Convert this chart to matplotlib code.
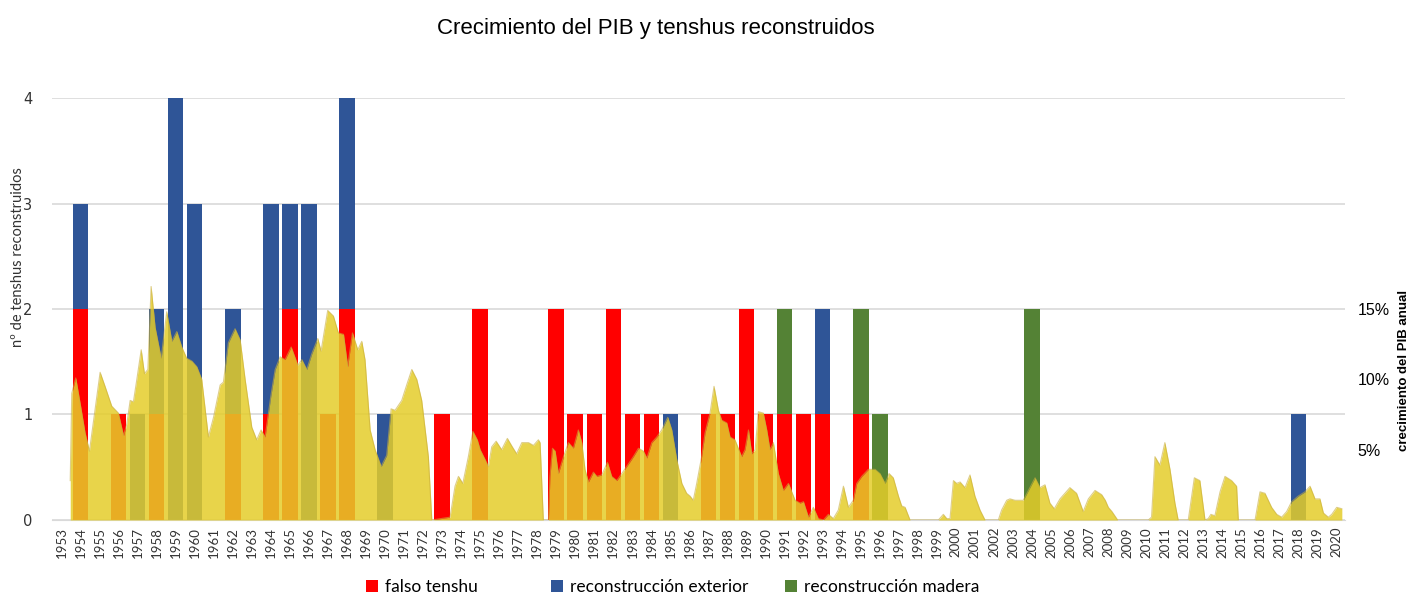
import numpy as np
import matplotlib.pyplot as plt

# tenshus reconstruidos por año (1953-2020)
years = list(range(1953, 2021))

falso_tenshu = [0, 2, 0, 1, 0, 1, 0, 0, 0, 1,      # 1953-1962
                0, 1, 2, 0, 1, 2, 0, 0, 0, 0,      # 1963-1972
                1, 0, 2, 0, 0, 0, 2, 1, 1, 2,      # 1973-1982
                1, 1, 0, 0, 1, 1, 2, 1, 1, 1,      # 1983-1992
                1, 0, 1, 0, 0, 0, 0, 0, 0, 0,      # 1993-2002
                0, 0, 0, 0, 0, 0, 0, 0, 0, 0,      # 2003-2012
                0, 0, 0, 0, 0, 0, 0, 0]            # 2013-2020

rec_exterior = [0, 1, 0, 0, 1, 1, 4, 3, 0, 1,
                0, 2, 1, 3, 0, 2, 0, 1, 0, 0,
                0, 0, 0, 0, 0, 0, 0, 0, 0, 0,
                0, 0, 1, 0, 0, 0, 0, 0, 0, 0,
                1, 0, 0, 0, 0, 0, 0, 0, 0, 0,
                0, 0, 0, 0, 0, 0, 0, 0, 0, 0,
                0, 0, 0, 0, 0, 1, 0, 0]

rec_madera = [0, 0, 0, 0, 0, 0, 0, 0, 0, 0,
              0, 0, 0, 0, 0, 0, 0, 0, 0, 0,
              0, 0, 0, 0, 0, 0, 0, 0, 0, 0,
              0, 0, 0, 0, 0, 0, 0, 0, 1, 0,
              0, 0, 1, 1, 0, 0, 0, 0, 0, 0,
              0, 2, 0, 0, 0, 0, 0, 0, 0, 0,
              0, 0, 0, 0, 0, 0, 0, 0]

# crecimiento del PIB (%)
gdp_year = [1953.46, 1953.54, 1953.75, 1953.98, 1954.24, 1954.47, 1955.03, 1955.29, 1955.64, 1955.99,
            1956.26, 1956.43, 1956.61, 1956.78, 1956.96, 1957.19, 1957.36, 1957.54, 1957.71, 1957.92,
            1958.24, 1958.53, 1958.80, 1959.06, 1959.32, 1959.58, 1959.85, 1960.11, 1960.37, 1960.72,
            1960.99, 1961.34, 1961.51, 1961.77, 1962.12, 1962.39, 1962.65, 1963.00, 1963.26, 1963.49,
            1963.70, 1964.00, 1964.23, 1964.49, 1964.75, 1965.07, 1965.42, 1965.63, 1965.89, 1966.15,
            1966.47, 1966.64, 1966.99, 1967.29, 1967.55, 1967.82, 1968.04, 1968.29, 1968.57, 1968.78,
            1968.95, 1969.22, 1969.48, 1969.80, 1970.09, 1970.32, 1970.53, 1970.88, 1971.14, 1971.41,
            1971.67, 1971.93, 1972.28, 1972.46, 1973.42, 1973.68, 1973.86, 1974.09, 1974.38, 1974.62,
            1974.85, 1975.00, 1975.26, 1975.43, 1975.61, 1975.84, 1976.13, 1976.43, 1976.69, 1976.92,
            1977.19, 1977.54, 1977.80, 1978.06, 1978.15, 1978.32, 1978.59, 1978.67, 1978.80, 1978.94,
            1979.11, 1979.38, 1979.64, 1979.90, 1980.16, 1980.34, 1980.51, 1980.69, 1980.95, 1981.13,
            1981.39, 1981.69, 1981.91, 1982.18, 1982.44, 1982.70, 1983.05, 1983.32, 1983.58, 1983.76,
            1984.02, 1984.28, 1984.54, 1984.86, 1985.07, 1985.33, 1985.60, 1985.85, 1986.03, 1986.20,
            1986.38, 1986.64, 1986.82, 1987.08, 1987.29, 1987.52, 1987.69, 1987.96, 1988.13, 1988.39,
            1988.74, 1988.92, 1989.10, 1989.27, 1989.45, 1989.62, 1989.88, 1990.06, 1990.23, 1990.41,
            1990.67, 1990.93, 1991.20, 1991.55, 1991.81, 1991.99, 1992.25, 1992.51, 1992.77, 1993.04,
            1993.30, 1993.56, 1993.82, 1994.09, 1994.35, 1994.61, 1994.79, 1995.05, 1995.40, 1995.75,
            1996.01, 1996.28, 1996.49, 1996.71, 1996.98, 1997.15, 1997.33, 1997.59, 1999.08, 1999.34,
            1999.52, 1999.69, 1999.87, 2000.04, 2000.22, 2000.48, 2000.74, 2001.00, 2001.27, 2001.53,
            2002.23, 2002.40, 2002.67, 2002.84, 2003.11, 2003.54, 2003.81, 2004.16, 2004.42, 2004.68,
            2004.94, 2005.17, 2005.47, 2005.99, 2006.34, 2006.69, 2006.96, 2007.31, 2007.66, 2007.85,
            2008.01, 2008.20, 2008.50, 2010.11, 2010.28, 2010.46, 2010.72, 2010.98, 2011.25, 2011.51,
            2011.68, 2012.21, 2012.53, 2012.82, 2013.09, 2013.26, 2013.40, 2013.61, 2013.88, 2014.14,
            2014.49, 2014.75, 2014.84, 2015.72, 2015.98, 2016.24, 2016.59, 2016.86, 2017.12, 2017.38,
            2017.64, 2017.99, 2018.34, 2018.61, 2018.87, 2019.13, 2019.31, 2019.57, 2019.75, 2020.01,
            2020.28]

gdp_pct = [2.8, 9.0, 10.1, 8.3, 6.2, 4.9, 10.5, 9.5, 8.1, 7.6,
           6.0, 6.8, 8.5, 8.4, 10.0, 12.1, 10.4, 10.7, 16.6, 13.7,
           11.5, 14.8, 12.7, 13.4, 12.3, 11.5, 11.3, 10.9, 10.0, 5.9,
           7.3, 9.6, 9.8, 12.6, 13.6, 12.8, 10.0, 6.6, 5.7, 6.4,
           5.9, 8.8, 10.7, 11.6, 11.4, 12.3, 11.0, 11.4, 10.7, 11.8,
           12.9, 12.0, 14.9, 14.5, 13.3, 13.2, 10.9, 13.3, 12.1, 12.7,
           11.4, 6.4, 5.0, 3.8, 4.6, 7.9, 7.8, 8.5, 9.6, 10.7,
           10.0, 8.5, 4.5, 0.0, 0.2, 2.4, 3.1, 2.6, 4.5, 6.3,
           5.7, 5.0, 4.3, 3.8, 5.2, 5.6, 5.0, 5.8, 5.2, 4.7,
           5.5, 5.5, 5.3, 5.7, 5.5, 0.0, 0.0, 3.1, 5.1, 4.9,
           3.3, 4.5, 5.5, 5.1, 6.4, 5.5, 3.6, 2.7, 3.4, 3.1,
           3.2, 4.1, 3.1, 2.8, 3.3, 3.8, 4.5, 5.1, 4.9, 4.4,
           5.5, 5.9, 6.4, 7.3, 6.4, 4.3, 2.6, 1.9, 1.7, 1.4,
           2.6, 4.5, 6.2, 7.6, 9.5, 7.8, 7.1, 6.9, 5.9, 5.7,
           4.5, 5.0, 6.4, 4.7, 5.0, 7.7, 7.6, 6.4, 5.0, 5.5,
           3.3, 2.1, 2.6, 1.4, 1.2, 1.3, 0.2, 0.9, 0.1, 0.0,
           0.4, 0.1, 0.7, 2.4, 0.9, 1.4, 2.6, 3.1, 3.6, 3.6,
           3.3, 2.6, 3.3, 3.0, 1.7, 1.0, 0.9, 0.0, 0.0, 0.4,
           0.1, 0.1, 2.8, 2.6, 2.7, 2.3, 3.2, 1.7, 0.7, 0.0,
           0.0, 0.7, 1.4, 1.5, 1.4, 1.4, 2.1, 3.0, 2.3, 2.5,
           1.2, 0.8, 1.5, 2.3, 1.9, 0.6, 1.5, 2.1, 1.8, 1.4,
           0.9, 0.6, 0.0, 0.0, 0.2, 4.5, 3.9, 5.5, 3.6, 1.2,
           0.0, 0.0, 3.0, 2.8, 0.0, 0.1, 0.4, 0.3, 2.0, 3.1,
           2.8, 2.4, 0.0, 0.0, 2.0, 1.9, 0.9, 0.4, 0.2, 0.6,
           1.3, 1.7, 2.0, 2.4, 1.5, 1.5, 0.5, 0.2, 0.4, 0.9,
           0.8]

pct_ticks = [5, 10, 15]

c_red = "#FF0000"
c_blue = "#2F5597"
c_green = "#548235"
c_yellow = "#E4CD2A"

fig = plt.figure(figsize=(14.12, 5.94), dpi=100)
ax = fig.add_axes([0.0368, 0.1246, 0.9158, 0.7104])

falso = np.array(falso_tenshu)
ext = np.array(rec_exterior)
mad = np.array(rec_madera)
w = 0.82
b1 = ax.bar(years, falso, width=w, color=c_red, label="falso tenshu", zorder=2)
b2 = ax.bar(years, ext, width=w, bottom=falso, color=c_blue, label="reconstrucción exterior", zorder=2)
b3 = ax.bar(years, mad, width=w, bottom=falso + ext, color=c_green, label="reconstrucción madera", zorder=2)

ax.set_ylim(0, 4)
ax.set_xlim(1952.5, 2020.45)
ax.set_yticks([0, 1, 2, 3, 4])
ax.yaxis.grid(True, color="#d9d9d9", linewidth=1.2, zorder=0)
ax.set_axisbelow(True)
for s in ["top", "right", "left"]:
    ax.spines[s].set_visible(False)
ax.spines["bottom"].set_color("#d9d9d9")
ax.tick_params(axis="y", length=0, pad=14, labelsize=10.5, labelcolor="#333333")
ax.set_xticks(years)
ax.set_xticklabels([str(y) for y in years], rotation=90, fontsize=9.5, family="Lato", color="#333333")
ax.tick_params(axis="x", length=0, pad=5)

# eje secundario: crecimiento del PIB
ax2 = ax.twinx()
ax2.fill_between(gdp_year, gdp_pct, 0, color=c_yellow, alpha=0.85, linewidth=0, zorder=3)
ax2.plot(gdp_year, gdp_pct, color="#C9AE3C", linewidth=0.8, alpha=0.6, zorder=4)
ax2.set_ylim(0, 30)
ax2.set_yticks(pct_ticks)
ax2.set_yticklabels([f"{t}%" for t in pct_ticks], fontsize=11.5, family="Liberation Sans")
ax2.tick_params(axis="y", length=0, pad=9)
for s in ["top", "right", "left", "bottom"]:
    ax2.spines[s].set_visible(False)

fig.text(0.4646, 0.952, "Crecimiento del PIB y tenshus reconstruidos", ha="center", va="center",
         fontsize=16, family="Liberation Sans")
fig.text(0.0127, 0.567, "nº de tenshus reconstruidos", rotation=90, ha="center", va="center",
         fontsize=10.5, family="Lato", color="#333333")
fig.text(0.9945, 0.377, "crecimiento del PIB anual", rotation=90, ha="center", va="center",
         fontsize=9.5, family="Liberation Sans", fontweight="bold")

# leyenda: tres entradas colocadas por separado
for handle, x in [(b1, 366), (b2, 551), (b3, 785)]:
    fig.legend(handles=[handle], loc="center left", bbox_to_anchor=(x / 1412, 1 - 587 / 594),
               frameon=False, prop={"family": "Lato", "size": 12.5}, handlelength=0.7,
               handleheight=0.7, handletextpad=0.4, borderpad=0, borderaxespad=0)

fig.savefig("out.png", dpi=100)
